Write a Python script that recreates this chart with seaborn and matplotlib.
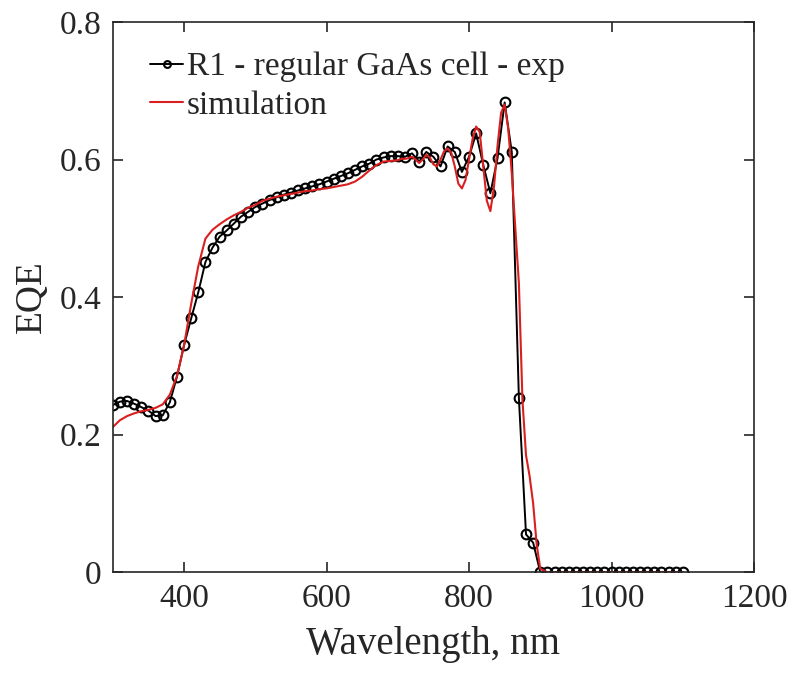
import numpy as np
import pandas as pd
import matplotlib
matplotlib.use('Agg')
import matplotlib.pyplot as plt
import seaborn as sns

# measured EQE, R1 regular GaAs cell (10 nm steps)
exp_wavelength = np.arange(300, 1110, 10)
exp_eqe = [0.243, 0.248, 0.249, 0.245, 0.240, 0.235, 0.227, 0.228, 0.247, 0.284,
           0.330, 0.369, 0.407, 0.451, 0.472, 0.488, 0.497, 0.507, 0.517, 0.524,
           0.531, 0.536, 0.541, 0.545, 0.549, 0.552, 0.555, 0.558, 0.561, 0.564,
           0.568, 0.572, 0.576, 0.580, 0.585, 0.590, 0.594, 0.600, 0.603, 0.605,
           0.605, 0.604, 0.609, 0.597, 0.611, 0.604, 0.590, 0.619, 0.611, 0.582,
           0.604, 0.638, 0.592, 0.551, 0.602, 0.683, 0.611, 0.253, 0.055, 0.043,
           0.0, 0.0, 0.0, 0.0, 0.0, 0.0, 0.0, 0.0, 0.0, 0.0,
           0.0, 0.0, 0.0, 0.0, 0.0, 0.0, 0.0, 0.0, 0.0, 0.0,
           0.0]

# simulated EQE
sim_wavelength = [300, 310, 320, 330, 340, 350, 360, 370, 380, 390,
                  400, 410, 420, 430, 440, 450, 460, 470, 480, 490,
                  500, 510, 520, 530, 540, 550, 560, 570, 580, 590,
                  600, 610, 620, 630, 640, 650, 660, 670, 680, 690,
                  700, 705, 710, 715, 720, 725, 730, 735, 740, 745,
                  750, 755, 760, 765, 770, 775, 780, 785, 790, 795,
                  800, 805, 810, 815, 820, 825, 830, 835, 840, 845,
                  850, 855, 860, 865, 870, 875, 880, 885, 890, 895,
                  900, 910, 1100]
sim_eqe = [0.211, 0.221, 0.227, 0.231, 0.234, 0.236, 0.239, 0.244, 0.258, 0.285,
           0.330, 0.390, 0.445, 0.485, 0.498, 0.506, 0.513, 0.519, 0.524, 0.530,
           0.534, 0.540, 0.543, 0.546, 0.548, 0.550, 0.552, 0.554, 0.555, 0.557,
           0.558, 0.560, 0.562, 0.564, 0.568, 0.575, 0.584, 0.592, 0.597, 0.598,
           0.599, 0.601, 0.601, 0.602, 0.604, 0.600, 0.595, 0.600, 0.607, 0.603,
           0.593, 0.590, 0.600, 0.612, 0.616, 0.610, 0.590, 0.565, 0.558, 0.570,
           0.600, 0.630, 0.648, 0.640, 0.590, 0.540, 0.525, 0.560, 0.620, 0.668,
           0.680, 0.645, 0.580, 0.500, 0.420, 0.250, 0.170, 0.140, 0.100, 0.040,
           0.005, 0.0, 0.0]

sns.set_style('ticks')
plt.rcParams['font.family'] = ['Liberation Serif', 'DejaVu Serif']

fig = plt.figure(figsize=(8, 6.78), dpi=100)
ax = fig.add_axes([0.141, 0.156, 0.8015, 0.8116])

sns.lineplot(x=exp_wavelength, y=exp_eqe, ax=ax, color='black', lw=1.4,
             marker='o', markersize=7, markerfacecolor='none',
             markeredgecolor='black', markeredgewidth=1.5,
             label='R1 - regular GaAs cell - exp')
sns.lineplot(x=sim_wavelength, y=sim_eqe, ax=ax, color='#d91f1f', lw=1.5,
             label='simulation')

ax.set_xlim(300, 1200)
ax.set_ylim(0, 0.8)
ax.set_xticks([400, 600, 800, 1000, 1200])
ax.set_yticks([0, 0.2, 0.4, 0.6, 0.8])
ax.set_yticklabels(['0', '0.2', '0.4', '0.6', '0.8'])
ax.tick_params(direction='in', length=7, width=1.2, top=True, right=True,
               labelsize=24, colors='#262626', pad=8)
for s in ax.spines.values():
    s.set_color('#262626')
    s.set_linewidth(1.2)
ax.set_xlabel('Wavelength, nm', fontsize=28, color='#262626', labelpad=9)
ax.set_ylabel('EQE', fontsize=27, color='#262626', labelpad=8)

leg = ax.legend(loc='upper left', bbox_to_anchor=(0.058, 0.946), frameon=False,
                fontsize=24, handlelength=1.0, handletextpad=0.1,
                borderaxespad=0, borderpad=0, labelspacing=0.25,
                markerscale=0.7)

fig.savefig('out.png', dpi=100)
